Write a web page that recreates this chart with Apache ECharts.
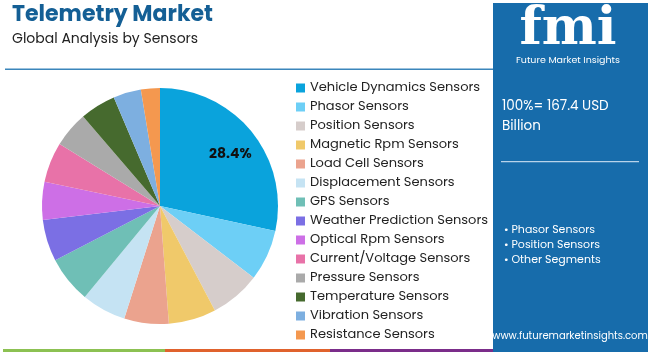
<!DOCTYPE html>
<html>
<head>
<meta charset="utf-8">
<script src="https://cdn.jsdelivr.net/npm/echarts@6/dist/echarts.min.js"></script>
<style>
html, body { margin: 0; padding: 0; background: #fff; }
#chart { width: 650px; height: 352px; }
</style>
</head>
<body>
<div id="chart"></div>
<script>
var sensorNames = ["Vehicle Dynamics Sensors", "Phasor Sensors", "Position Sensors", "Magnetic Rpm Sensors",
	"Load Cell Sensors", "Displacement Sensors", "GPS Sensors", "Weather Prediction Sensors",
	"Optical Rpm Sensors", "Current/Voltage Sensors", "Pressure Sensors", "Temperature Sensors",
	"Vibration Sensors", "Resistance Sensors"];
var shareValues = [28.4, 7.0, 6.9, 6.5, 6.1, 6.1, 6.4, 5.7, 5.2, 5.5, 4.9, 4.9, 3.8, 2.6];
var sliceColors = ["#0aa3dc", "#6dcff6", "#d6cdcb", "#f0c96a", "#eba38e", "#c5e3f3", "#6fbfb6",
	"#7b6fe4", "#cd6fe6", "#e872a8", "#aaaaaa", "#466a2e", "#7dafe0", "#f4984f"];
var panelBullets = ["• Phasor Sensors", "• Position Sensors", "• Other Segments"];
var totalText = "100%= 167.4 USD\nBillion";

var font = "Poppins, 'Open Sans', sans-serif";

var pieData = [];
for (var i = 0; i < sensorNames.length; i++) {
	var item = { name: sensorNames[i], value: shareValues[i] };
	if (i == 0) {
		item.label = {
			show: true, position: 'inside', offset: [22, -13],
			formatter: '{c}%', color: '#111', fontWeight: 'bold', fontSize: 14, fontFamily: font
		};
	}
	pieData.push(item);
}

var graphics = [
	{ type: 'text', left: 12, top: 4, style: { text: 'Telemetry Market', fill: '#145f95', font: 'bold 22px ' + font } },
	{ type: 'text', left: 12, top: 32, style: { text: 'Global Analysis by Sensors', fill: '#222', font: '14px ' + font } },
	{ type: 'rect', shape: { x: 5, y: 68.5, width: 488, height: 1.5 }, style: { fill: '#3b86bb' } },
	{ type: 'rect', shape: { x: 493, y: 3, width: 155, height: 346 }, style: { fill: '#176cab' } },
	{ type: 'text', x: 568, y: 4, style: { text: 'fmi', fill: '#fff', font: 'bold 52px "DejaVu Serif", serif', align: 'center' } },
	{ type: 'text', x: 568, y: 56, style: { text: 'Future Market Insights', fill: '#fff', font: '9.5px ' + font, align: 'center' } },
	{ type: 'text', left: 502, top: 97, style: { text: totalText, fill: '#fff', font: '13.5px ' + font, lineHeight: 20 } },
	{ type: 'rect', shape: { x: 501, y: 161, width: 138, height: 1.2 }, style: { fill: '#b8d3ea' } },
	{ type: 'text', left: 504, top: 223, style: { text: panelBullets.join('\n'), fill: '#fff', font: '11px ' + font, lineHeight: 15 } },
	{ type: 'text', x: 570, y: 331, style: { text: 'www.futuremarketinsights.com', fill: '#fff', font: '10px ' + font, align: 'center' } },
	{ type: 'rect', shape: { x: 3, y: 349, width: 162, height: 3 }, style: { fill: '#8cc152' } },
	{ type: 'rect', shape: { x: 165, y: 349, width: 165, height: 3 }, style: { fill: '#e0622d' } },
	{ type: 'rect', shape: { x: 330, y: 349, width: 163, height: 3 }, style: { fill: '#7b2d8a' } },
	{ type: 'rect', shape: { x: 493, y: 349, width: 155, height: 3 }, style: { fill: '#176cab' } }
];

var chart = echarts.init(document.getElementById('chart'));
chart.setOption({
	animation: false,
	color: sliceColors,
	legend: {
		orient: 'vertical',
		left: 296,
		top: 78.5,
		height: 273,
		padding: 0,
		itemWidth: 9,
		itemHeight: 9,
		itemGap: 0,
		icon: 'rect',
		data: sensorNames,
		textStyle: { fontSize: 13, color: '#222', fontFamily: font, lineHeight: 19 }
	},
	graphic: graphics,
	series: [{
		type: 'pie',
		center: [160, 206],
		radius: [0, 118],
		startAngle: 90,
		clockwise: true,
		label: { show: false },
		labelLine: { show: false },
		emphasis: { disabled: true },
		data: pieData
	}]
});
</script>
</body>
</html>
